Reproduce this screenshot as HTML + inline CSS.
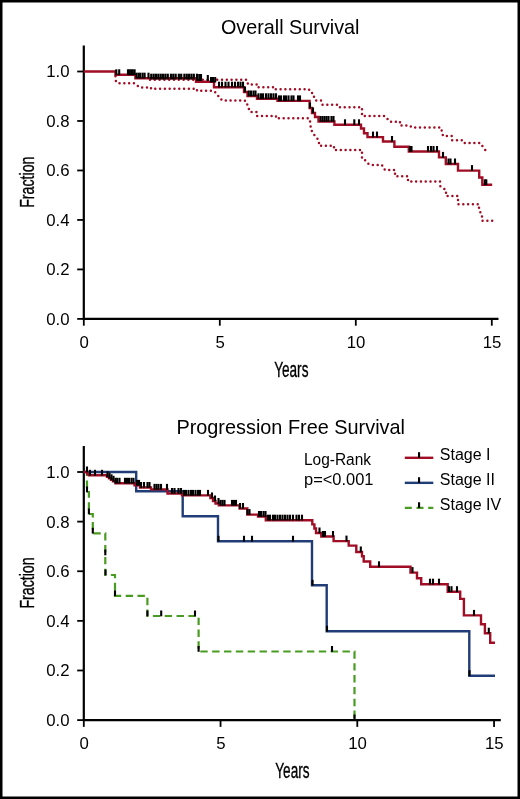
<!DOCTYPE html>
<html><head><meta charset="utf-8"><style>
html,body{margin:0;padding:0;background:#fff;}
svg{display:block;will-change:transform;}
text{font-family:"Liberation Sans", sans-serif;fill:#000;}
</style></head><body>
<svg width="520" height="799" viewBox="0 0 520 799">
<rect x="1.25" y="1.25" width="517.5" height="796.5" fill="#fff" stroke="#000" stroke-width="2.5"/>
<line x1="83.8" y1="45.5" x2="83.8" y2="319.9" stroke="#000" stroke-width="2.2"/>
<line x1="82.8" y1="318.9" x2="498.5" y2="318.9" stroke="#000" stroke-width="2.1"/>
<line x1="77.2" y1="318.90" x2="83.8" y2="318.90" stroke="#000" stroke-width="1.8"/>
<text x="69.6" y="324.80" text-anchor="end" font-size="16.8">0.0</text>
<line x1="77.2" y1="269.42" x2="83.8" y2="269.42" stroke="#000" stroke-width="1.8"/>
<text x="69.6" y="275.32" text-anchor="end" font-size="16.8">0.2</text>
<line x1="77.2" y1="219.94" x2="83.8" y2="219.94" stroke="#000" stroke-width="1.8"/>
<text x="69.6" y="225.84" text-anchor="end" font-size="16.8">0.4</text>
<line x1="77.2" y1="170.46" x2="83.8" y2="170.46" stroke="#000" stroke-width="1.8"/>
<text x="69.6" y="176.36" text-anchor="end" font-size="16.8">0.6</text>
<line x1="77.2" y1="120.98" x2="83.8" y2="120.98" stroke="#000" stroke-width="1.8"/>
<text x="69.6" y="126.88" text-anchor="end" font-size="16.8">0.8</text>
<line x1="77.2" y1="71.50" x2="83.8" y2="71.50" stroke="#000" stroke-width="1.8"/>
<text x="69.6" y="77.40" text-anchor="end" font-size="16.8">1.0</text>
<line x1="83.80" y1="318.9" x2="83.80" y2="325.7" stroke="#000" stroke-width="1.8"/>
<text x="84.10" y="347.70" text-anchor="middle" font-size="16.8">0</text>
<line x1="219.80" y1="318.9" x2="219.80" y2="325.7" stroke="#000" stroke-width="1.8"/>
<text x="220.10" y="347.70" text-anchor="middle" font-size="16.8">5</text>
<line x1="355.80" y1="318.9" x2="355.80" y2="325.7" stroke="#000" stroke-width="1.8"/>
<text x="356.10" y="347.70" text-anchor="middle" font-size="16.8">10</text>
<line x1="491.80" y1="318.9" x2="491.80" y2="325.7" stroke="#000" stroke-width="1.8"/>
<text x="492.10" y="347.70" text-anchor="middle" font-size="16.8">15</text>
<text x="220.9" y="33.8" font-size="20.6" textLength="138.6" lengthAdjust="spacingAndGlyphs">Overall Survival</text>
<text x="274.15" y="376.6" font-size="21.3" textLength="34.3" lengthAdjust="spacingAndGlyphs" stroke="#000" stroke-width="0.35">Years</text>
<text transform="translate(33.8 207.80) rotate(-90)" x="0" y="0" font-size="20.5" textLength="51.2" lengthAdjust="spacingAndGlyphs" stroke="#000" stroke-width="0.35">Fraction</text>
<path d="M 150 79.8 H 247 L 248 84.5 H 257 V 87.3 H 273 V 89.3 H 309 L 310 92 L 314 94 V 98 L 316 100.5 H 321 L 322 104.7 H 337 L 338 107.3 H 362 V 116 H 385 L 390 121.7 H 400 V 125.6 H 410 L 412 127.5 H 441 L 443 136 H 452 V 140.3 H 462 L 463 142.9 H 480 L 486 151" fill="none" stroke="#a00d24" stroke-width="2.5" stroke-dasharray="0 4.8" stroke-linecap="round"/>
<path d="M 115.5 71.5 V 77.5 L 116 82 L 118 83.2 H 134 L 135 84 L 140 87.5 H 151 V 88.8 H 197 V 90.8 H 213 L 215 92 L 222 100.4 H 244 L 246 101 L 250 112 H 257 V 116 H 276 V 118.3 H 309 L 310 121 L 311 129.5 L 313 133 L 315 136 L 317 138 L 319 141 V 145.7 H 334 V 150 H 362 V 159 L 365 160 L 368 163.5 L 371 165 H 382 L 383 167 L 385 170 H 395 V 176.2 H 408 V 181.5 H 440 V 186 L 446 190 V 196 H 458 V 204.3 H 479 V 210 L 482 215 V 220.8 H 493" fill="none" stroke="#a00d24" stroke-width="2.5" stroke-dasharray="0 4.8" stroke-linecap="round"/>
<path d="M 83.8 71.5 H 115.5 V 74.8 H 135.4 V 78.2 H 196 V 81.8 H 214 V 87.2 H 244 V 92 H 247.5 V 96 H 257 V 98.8 H 277.5 V 100.9 H 309.6 V 108 H 312 V 113 H 315 V 117 H 318.5 V 121.5 H 334.4 V 124.8 H 361 V 128.5 H 364 V 133.3 H 367.5 V 137.1 H 383 V 141.5 H 394.4 V 146.8 H 408.8 V 151.5 H 439 V 157.4 H 445.8 V 164 H 458 V 170.6 H 479.2 V 177.5 H 482.3 V 184.8 H 492.2" fill="none" stroke="#a00d24" stroke-width="2.4"/>
<rect x="115.25" y="69.30" width="2.1" height="5.80" fill="#000"/>
<rect x="118.15" y="69.30" width="2.1" height="5.80" fill="#000"/>
<rect x="126.95" y="69.30" width="2.1" height="5.80" fill="#000"/>
<rect x="128.55" y="69.30" width="2.1" height="5.80" fill="#000"/>
<rect x="130.15" y="69.30" width="2.1" height="5.80" fill="#000"/>
<rect x="131.75" y="69.30" width="2.1" height="5.80" fill="#000"/>
<rect x="133.55" y="69.30" width="2.1" height="5.80" fill="#000"/>
<rect x="135.45" y="72.70" width="2.1" height="5.80" fill="#000"/>
<rect x="137.45" y="72.70" width="2.1" height="5.80" fill="#000"/>
<rect x="139.15" y="72.70" width="2.1" height="5.80" fill="#000"/>
<rect x="141.55" y="72.70" width="2.1" height="5.80" fill="#000"/>
<rect x="143.55" y="72.70" width="2.1" height="5.80" fill="#000"/>
<rect x="147.45" y="72.70" width="2.1" height="5.80" fill="#000"/>
<rect x="217.95" y="81.70" width="2.1" height="5.80" fill="#000"/>
<rect x="220.95" y="81.70" width="2.1" height="5.80" fill="#000"/>
<rect x="224.45" y="81.70" width="2.1" height="5.80" fill="#000"/>
<rect x="227.45" y="81.70" width="2.1" height="5.80" fill="#000"/>
<rect x="230.95" y="81.70" width="2.1" height="5.80" fill="#000"/>
<rect x="233.95" y="81.70" width="2.1" height="5.80" fill="#000"/>
<rect x="236.95" y="81.70" width="2.1" height="5.80" fill="#000"/>
<rect x="239.45" y="81.70" width="2.1" height="5.80" fill="#000"/>
<rect x="241.95" y="81.70" width="2.1" height="5.80" fill="#000"/>
<rect x="243.95" y="86.50" width="2.1" height="5.80" fill="#000"/>
<rect x="247.75" y="90.50" width="2.1" height="5.80" fill="#000"/>
<rect x="249.95" y="90.50" width="2.1" height="5.80" fill="#000"/>
<rect x="252.45" y="90.50" width="2.1" height="5.80" fill="#000"/>
<rect x="254.45" y="90.50" width="2.1" height="5.80" fill="#000"/>
<rect x="257.45" y="93.30" width="2.1" height="5.80" fill="#000"/>
<rect x="259.95" y="93.30" width="2.1" height="5.80" fill="#000"/>
<rect x="261.95" y="93.30" width="2.1" height="5.80" fill="#000"/>
<rect x="264.95" y="93.30" width="2.1" height="5.80" fill="#000"/>
<rect x="267.45" y="93.30" width="2.1" height="5.80" fill="#000"/>
<rect x="269.95" y="93.30" width="2.1" height="5.80" fill="#000"/>
<rect x="272.45" y="93.30" width="2.1" height="5.80" fill="#000"/>
<rect x="274.95" y="93.30" width="2.1" height="5.80" fill="#000"/>
<rect x="277.95" y="95.40" width="2.1" height="5.80" fill="#000"/>
<rect x="279.95" y="95.40" width="2.1" height="5.80" fill="#000"/>
<rect x="282.95" y="95.40" width="2.1" height="5.80" fill="#000"/>
<rect x="284.95" y="95.40" width="2.1" height="5.80" fill="#000"/>
<rect x="287.45" y="95.40" width="2.1" height="5.80" fill="#000"/>
<rect x="290.45" y="95.40" width="2.1" height="5.80" fill="#000"/>
<rect x="292.45" y="95.40" width="2.1" height="5.80" fill="#000"/>
<rect x="296.95" y="95.40" width="2.1" height="5.80" fill="#000"/>
<rect x="298.95" y="95.40" width="2.1" height="5.80" fill="#000"/>
<rect x="308.95" y="102.50" width="2.1" height="5.80" fill="#000"/>
<rect x="311.95" y="107.50" width="2.1" height="5.80" fill="#000"/>
<rect x="319.45" y="116.00" width="2.1" height="5.80" fill="#000"/>
<rect x="321.45" y="116.00" width="2.1" height="5.80" fill="#000"/>
<rect x="323.45" y="116.00" width="2.1" height="5.80" fill="#000"/>
<rect x="325.45" y="116.00" width="2.1" height="5.80" fill="#000"/>
<rect x="327.45" y="116.00" width="2.1" height="5.80" fill="#000"/>
<rect x="330.45" y="116.00" width="2.1" height="5.80" fill="#000"/>
<rect x="332.45" y="116.00" width="2.1" height="5.80" fill="#000"/>
<rect x="343.95" y="119.30" width="2.1" height="5.80" fill="#000"/>
<rect x="353.25" y="119.30" width="2.1" height="5.80" fill="#000"/>
<rect x="357.95" y="119.30" width="2.1" height="5.80" fill="#000"/>
<rect x="371.95" y="131.60" width="2.1" height="5.80" fill="#000"/>
<rect x="375.95" y="131.60" width="2.1" height="5.80" fill="#000"/>
<rect x="390.95" y="136.00" width="2.1" height="5.80" fill="#000"/>
<rect x="408.95" y="146.00" width="2.1" height="5.80" fill="#000"/>
<rect x="410.45" y="146.00" width="2.1" height="5.80" fill="#000"/>
<rect x="426.95" y="146.00" width="2.1" height="5.80" fill="#000"/>
<rect x="429.95" y="146.00" width="2.1" height="5.80" fill="#000"/>
<rect x="432.45" y="146.00" width="2.1" height="5.80" fill="#000"/>
<rect x="435.95" y="146.00" width="2.1" height="5.80" fill="#000"/>
<rect x="441.95" y="151.90" width="2.1" height="5.80" fill="#000"/>
<rect x="447.45" y="158.50" width="2.1" height="5.80" fill="#000"/>
<rect x="449.45" y="158.50" width="2.1" height="5.80" fill="#000"/>
<rect x="453.95" y="158.50" width="2.1" height="5.80" fill="#000"/>
<rect x="470.95" y="165.10" width="2.1" height="5.80" fill="#000"/>
<rect x="483.75" y="179.30" width="2.1" height="5.80" fill="#000"/>
<rect x="485.25" y="179.30" width="2.1" height="5.80" fill="#000"/>
<rect x="150.20" y="73.7" width="2.2" height="5.8" fill="#000"/>
<rect x="152.55" y="73.7" width="2.2" height="5.8" fill="#000"/>
<rect x="154.90" y="73.7" width="2.2" height="5.8" fill="#000"/>
<rect x="157.25" y="73.7" width="2.2" height="5.8" fill="#000"/>
<rect x="159.60" y="73.7" width="2.2" height="5.8" fill="#000"/>
<rect x="161.95" y="73.7" width="2.2" height="5.8" fill="#000"/>
<rect x="164.30" y="73.7" width="2.2" height="5.8" fill="#000"/>
<rect x="166.65" y="73.7" width="2.2" height="5.8" fill="#000"/>
<rect x="169.85" y="73.7" width="2.2" height="5.8" fill="#000"/>
<rect x="172.20" y="73.7" width="2.2" height="5.8" fill="#000"/>
<rect x="174.55" y="73.7" width="2.2" height="5.8" fill="#000"/>
<rect x="177.75" y="73.7" width="2.2" height="5.8" fill="#000"/>
<rect x="180.10" y="73.7" width="2.2" height="5.8" fill="#000"/>
<rect x="183.30" y="73.7" width="2.2" height="5.8" fill="#000"/>
<rect x="185.65" y="73.7" width="2.2" height="5.8" fill="#000"/>
<rect x="188.00" y="73.7" width="2.2" height="5.8" fill="#000"/>
<rect x="190.35" y="73.7" width="2.2" height="5.8" fill="#000"/>
<rect x="192.70" y="73.7" width="2.2" height="5.8" fill="#000"/>
<rect x="195.90" y="73.7" width="2.2" height="5.8" fill="#000"/>
<rect x="196.45" y="74" width="2.1" height="7" fill="#000"/>
<rect x="198.45" y="74" width="2.1" height="7" fill="#000"/>
<rect x="199.95" y="74" width="2.1" height="7" fill="#000"/>
<rect x="206.75" y="75" width="2.1" height="6" fill="#000"/>
<rect x="209.95" y="77" width="2.1" height="5.5" fill="#000"/>
<rect x="211.95" y="77" width="2.1" height="5.5" fill="#000"/>
<rect x="214.15" y="77" width="2.1" height="5.5" fill="#000"/>
<line x1="83.8" y1="446" x2="83.8" y2="721.1" stroke="#000" stroke-width="2.2"/>
<line x1="82.8" y1="720.1" x2="500.8" y2="720.1" stroke="#000" stroke-width="2.1"/>
<line x1="77.2" y1="720.10" x2="83.8" y2="720.10" stroke="#000" stroke-width="1.8"/>
<text x="69.6" y="726.00" text-anchor="end" font-size="16.8">0.0</text>
<line x1="77.2" y1="670.48" x2="83.8" y2="670.48" stroke="#000" stroke-width="1.8"/>
<text x="69.6" y="676.38" text-anchor="end" font-size="16.8">0.2</text>
<line x1="77.2" y1="620.86" x2="83.8" y2="620.86" stroke="#000" stroke-width="1.8"/>
<text x="69.6" y="626.76" text-anchor="end" font-size="16.8">0.4</text>
<line x1="77.2" y1="571.24" x2="83.8" y2="571.24" stroke="#000" stroke-width="1.8"/>
<text x="69.6" y="577.14" text-anchor="end" font-size="16.8">0.6</text>
<line x1="77.2" y1="521.62" x2="83.8" y2="521.62" stroke="#000" stroke-width="1.8"/>
<text x="69.6" y="527.52" text-anchor="end" font-size="16.8">0.8</text>
<line x1="77.2" y1="472.00" x2="83.8" y2="472.00" stroke="#000" stroke-width="1.8"/>
<text x="69.6" y="477.90" text-anchor="end" font-size="16.8">1.0</text>
<line x1="83.80" y1="720.1" x2="83.80" y2="726.9" stroke="#000" stroke-width="1.8"/>
<text x="84.10" y="748.90" text-anchor="middle" font-size="16.8">0</text>
<line x1="220.55" y1="720.1" x2="220.55" y2="726.9" stroke="#000" stroke-width="1.8"/>
<text x="220.85" y="748.90" text-anchor="middle" font-size="16.8">5</text>
<line x1="357.30" y1="720.1" x2="357.30" y2="726.9" stroke="#000" stroke-width="1.8"/>
<text x="357.60" y="748.90" text-anchor="middle" font-size="16.8">10</text>
<line x1="494.05" y1="720.1" x2="494.05" y2="726.9" stroke="#000" stroke-width="1.8"/>
<text x="494.35" y="748.90" text-anchor="middle" font-size="16.8">15</text>
<text x="176.4" y="434.1" font-size="20.6" textLength="228.6" lengthAdjust="spacingAndGlyphs">Progression Free Survival</text>
<text x="275.30" y="778.1" font-size="21.3" textLength="34.3" lengthAdjust="spacingAndGlyphs" stroke="#000" stroke-width="0.35">Years</text>
<text transform="translate(33.8 608.60) rotate(-90)" x="0" y="0" font-size="20.5" textLength="51.2" lengthAdjust="spacingAndGlyphs" stroke="#000" stroke-width="0.35">Fraction</text>
<path d="M 83.8 472 H 87 V 492 H 88.9 V 514 H 92.8 V 533.3 H 105.3 V 575 H 115 V 595.8 H 147.4 V 616 H 198.6 V 651.5 H 354.5 V 720" fill="none" stroke="#4a9b22" stroke-width="2.2" stroke-dasharray="7.4 4.45" stroke-dashoffset="0.25"/>
<path d="M 83.8 472 H 136.2 V 491.2 H 182.7 V 516.3 H 218 V 541.3 H 312 V 585.3 H 326.7 V 631.3 H 469.3 V 675.7 H 495" fill="none" stroke="#213d77" stroke-width="2.4"/>
<path d="M 83.8 472 H 87.2 V 474 H 89 V 475.3 H 107 V 476.8 H 109 V 478.3 H 111 V 479.8 H 113 V 481.3 H 115.5 V 483.3 H 134.5 V 485.4 H 140 V 487.5 H 151 V 489.4 H 167.5 V 493.5 H 182 V 495.4 H 210.4 V 498 H 213 V 501 H 215.5 V 503.5 H 218.8 V 505.4 H 239.6 V 508.5 H 247.3 V 514.6 H 258 V 516.5 H 265.8 V 520.2 H 312.3 V 524.4 H 314.4 V 528.5 H 316 V 533 H 321.3 V 536.5 H 333.6 V 541.1 H 348.7 V 545.6 H 356.3 V 552 H 362 V 556.3 H 363.7 V 561.5 H 370.2 V 566.8 H 410.5 V 572.6 H 417 V 578.3 H 421.2 V 584.2 H 447.7 V 591.7 H 460.2 V 598.9 H 463.9 V 615.4 H 481 V 624.3 H 484.9 V 633.2 H 490.2 V 642.8 H 495" fill="none" stroke="#a00d24" stroke-width="2.4"/>
<rect x="85.95" y="466.50" width="2.1" height="5.80" fill="#000"/>
<rect x="88.95" y="469.80" width="2.1" height="5.80" fill="#000"/>
<rect x="93.95" y="469.80" width="2.1" height="5.80" fill="#000"/>
<rect x="100.95" y="469.80" width="2.1" height="5.80" fill="#000"/>
<rect x="106.45" y="471.30" width="2.1" height="5.80" fill="#000"/>
<rect x="108.45" y="472.80" width="2.1" height="5.80" fill="#000"/>
<rect x="110.45" y="474.30" width="2.1" height="5.80" fill="#000"/>
<rect x="112.45" y="475.80" width="2.1" height="5.80" fill="#000"/>
<rect x="114.45" y="477.80" width="2.1" height="5.80" fill="#000"/>
<rect x="116.15" y="477.80" width="2.1" height="5.80" fill="#000"/>
<rect x="118.45" y="477.80" width="2.1" height="5.80" fill="#000"/>
<rect x="123.95" y="477.80" width="2.1" height="5.80" fill="#000"/>
<rect x="125.95" y="477.80" width="2.1" height="5.80" fill="#000"/>
<rect x="127.95" y="477.80" width="2.1" height="5.80" fill="#000"/>
<rect x="130.45" y="477.80" width="2.1" height="5.80" fill="#000"/>
<rect x="132.45" y="477.80" width="2.1" height="5.80" fill="#000"/>
<rect x="135.95" y="479.90" width="2.1" height="5.80" fill="#000"/>
<rect x="137.95" y="479.90" width="2.1" height="5.80" fill="#000"/>
<rect x="139.95" y="482.00" width="2.1" height="5.80" fill="#000"/>
<rect x="142.95" y="482.00" width="2.1" height="5.80" fill="#000"/>
<rect x="146.45" y="482.00" width="2.1" height="5.80" fill="#000"/>
<rect x="148.45" y="482.00" width="2.1" height="5.80" fill="#000"/>
<rect x="153.45" y="483.90" width="2.1" height="5.80" fill="#000"/>
<rect x="155.45" y="483.90" width="2.1" height="5.80" fill="#000"/>
<rect x="157.45" y="483.90" width="2.1" height="5.80" fill="#000"/>
<rect x="159.95" y="483.90" width="2.1" height="5.80" fill="#000"/>
<rect x="165.95" y="483.90" width="2.1" height="5.80" fill="#000"/>
<rect x="170.95" y="488.00" width="2.1" height="5.80" fill="#000"/>
<rect x="173.45" y="488.00" width="2.1" height="5.80" fill="#000"/>
<rect x="177.45" y="488.00" width="2.1" height="5.80" fill="#000"/>
<rect x="179.95" y="488.00" width="2.1" height="5.80" fill="#000"/>
<rect x="182.95" y="489.90" width="2.1" height="5.80" fill="#000"/>
<rect x="184.95" y="489.90" width="2.1" height="5.80" fill="#000"/>
<rect x="187.45" y="489.90" width="2.1" height="5.80" fill="#000"/>
<rect x="189.95" y="489.90" width="2.1" height="5.80" fill="#000"/>
<rect x="191.95" y="489.90" width="2.1" height="5.80" fill="#000"/>
<rect x="194.45" y="489.90" width="2.1" height="5.80" fill="#000"/>
<rect x="196.95" y="489.90" width="2.1" height="5.80" fill="#000"/>
<rect x="198.95" y="489.90" width="2.1" height="5.80" fill="#000"/>
<rect x="206.95" y="489.90" width="2.1" height="5.80" fill="#000"/>
<rect x="210.95" y="492.50" width="2.1" height="5.80" fill="#000"/>
<rect x="213.95" y="495.50" width="2.1" height="5.80" fill="#000"/>
<rect x="217.45" y="498.00" width="2.1" height="5.80" fill="#000"/>
<rect x="219.45" y="499.90" width="2.1" height="5.80" fill="#000"/>
<rect x="221.45" y="499.90" width="2.1" height="5.80" fill="#000"/>
<rect x="223.45" y="499.90" width="2.1" height="5.80" fill="#000"/>
<rect x="230.95" y="499.90" width="2.1" height="5.80" fill="#000"/>
<rect x="232.95" y="499.90" width="2.1" height="5.80" fill="#000"/>
<rect x="234.95" y="499.90" width="2.1" height="5.80" fill="#000"/>
<rect x="238.95" y="503.00" width="2.1" height="5.80" fill="#000"/>
<rect x="241.95" y="503.00" width="2.1" height="5.80" fill="#000"/>
<rect x="246.45" y="509.10" width="2.1" height="5.80" fill="#000"/>
<rect x="248.45" y="509.10" width="2.1" height="5.80" fill="#000"/>
<rect x="257.95" y="511.00" width="2.1" height="5.80" fill="#000"/>
<rect x="259.95" y="511.00" width="2.1" height="5.80" fill="#000"/>
<rect x="262.45" y="511.00" width="2.1" height="5.80" fill="#000"/>
<rect x="264.45" y="511.00" width="2.1" height="5.80" fill="#000"/>
<rect x="266.95" y="514.70" width="2.1" height="5.80" fill="#000"/>
<rect x="268.95" y="514.70" width="2.1" height="5.80" fill="#000"/>
<rect x="271.95" y="514.70" width="2.1" height="5.80" fill="#000"/>
<rect x="273.95" y="514.70" width="2.1" height="5.80" fill="#000"/>
<rect x="276.45" y="514.70" width="2.1" height="5.80" fill="#000"/>
<rect x="278.95" y="514.70" width="2.1" height="5.80" fill="#000"/>
<rect x="281.45" y="514.70" width="2.1" height="5.80" fill="#000"/>
<rect x="283.95" y="514.70" width="2.1" height="5.80" fill="#000"/>
<rect x="286.45" y="514.70" width="2.1" height="5.80" fill="#000"/>
<rect x="288.95" y="514.70" width="2.1" height="5.80" fill="#000"/>
<rect x="291.95" y="514.70" width="2.1" height="5.80" fill="#000"/>
<rect x="295.45" y="514.70" width="2.1" height="5.80" fill="#000"/>
<rect x="297.95" y="514.70" width="2.1" height="5.80" fill="#000"/>
<rect x="300.95" y="514.70" width="2.1" height="5.80" fill="#000"/>
<rect x="318.45" y="527.50" width="2.1" height="5.80" fill="#000"/>
<rect x="321.95" y="531.00" width="2.1" height="5.80" fill="#000"/>
<rect x="323.95" y="531.00" width="2.1" height="5.80" fill="#000"/>
<rect x="331.95" y="531.00" width="2.1" height="5.80" fill="#000"/>
<rect x="345.45" y="535.60" width="2.1" height="5.80" fill="#000"/>
<rect x="359.75" y="546.50" width="2.1" height="5.80" fill="#000"/>
<rect x="377.95" y="561.30" width="2.1" height="5.80" fill="#000"/>
<rect x="411.45" y="567.10" width="2.1" height="5.80" fill="#000"/>
<rect x="428.95" y="578.70" width="2.1" height="5.80" fill="#000"/>
<rect x="431.95" y="578.70" width="2.1" height="5.80" fill="#000"/>
<rect x="437.95" y="578.70" width="2.1" height="5.80" fill="#000"/>
<rect x="447.95" y="586.20" width="2.1" height="5.80" fill="#000"/>
<rect x="450.45" y="586.20" width="2.1" height="5.80" fill="#000"/>
<rect x="455.95" y="586.20" width="2.1" height="5.80" fill="#000"/>
<rect x="472.95" y="609.90" width="2.1" height="5.80" fill="#000"/>
<rect x="487.75" y="627.70" width="2.1" height="5.80" fill="#000"/>
<rect x="217.45" y="535.80" width="2.1" height="5.80" fill="#000"/>
<rect x="242.95" y="535.80" width="2.1" height="5.80" fill="#000"/>
<rect x="250.95" y="535.80" width="2.1" height="5.80" fill="#000"/>
<rect x="291.95" y="535.80" width="2.1" height="5.80" fill="#000"/>
<rect x="311.45" y="579.80" width="2.1" height="5.80" fill="#000"/>
<rect x="325.95" y="625.80" width="2.1" height="5.80" fill="#000"/>
<rect x="468.45" y="670.20" width="2.1" height="5.80" fill="#000"/>
<rect x="85.95" y="486.50" width="2.1" height="5.80" fill="#000"/>
<rect x="87.85" y="508.50" width="2.1" height="5.80" fill="#000"/>
<rect x="91.75" y="527.80" width="2.1" height="5.80" fill="#000"/>
<rect x="104.25" y="549.50" width="2.1" height="5.80" fill="#000"/>
<rect x="104.45" y="569.50" width="2.1" height="5.80" fill="#000"/>
<rect x="113.95" y="590.30" width="2.1" height="5.80" fill="#000"/>
<rect x="146.35" y="610.50" width="2.1" height="5.80" fill="#000"/>
<rect x="160.15" y="610.50" width="2.1" height="5.80" fill="#000"/>
<rect x="193.95" y="610.50" width="2.1" height="5.80" fill="#000"/>
<rect x="197.55" y="646.00" width="2.1" height="5.80" fill="#000"/>
<rect x="330.95" y="646.00" width="2.1" height="5.80" fill="#000"/>
<rect x="353.45" y="714.50" width="2.1" height="5.80" fill="#000"/>
<text x="304" y="465.4" font-size="16" textLength="67" lengthAdjust="spacingAndGlyphs">Log-Rank</text>
<text x="304" y="484.6" font-size="16" textLength="69.5" lengthAdjust="spacingAndGlyphs">p=&lt;0.001</text>
<line x1="404.8" y1="457.8" x2="433.3" y2="457.8" stroke="#a00d24" stroke-width="2.4"/>
<rect x="418" y="452.2" width="2.1" height="5.6" fill="#000"/>
<text x="439.8" y="460.30" font-size="16">Stage I</text>
<line x1="404.8" y1="482.85" x2="433.3" y2="482.85" stroke="#213d77" stroke-width="2.4"/>
<rect x="418" y="477.25" width="2.1" height="5.6" fill="#000"/>
<text x="439.8" y="485.35" font-size="16">Stage II</text>
<line x1="404.8" y1="507.90000000000003" x2="433.3" y2="507.90000000000003" stroke="#4a9b22" stroke-width="2.2" stroke-dasharray="7 4.7"/>
<rect x="418" y="502.3" width="2.1" height="5.6" fill="#000"/>
<text x="439.8" y="510.40" font-size="16">Stage IV</text>
</svg>
</body></html>
